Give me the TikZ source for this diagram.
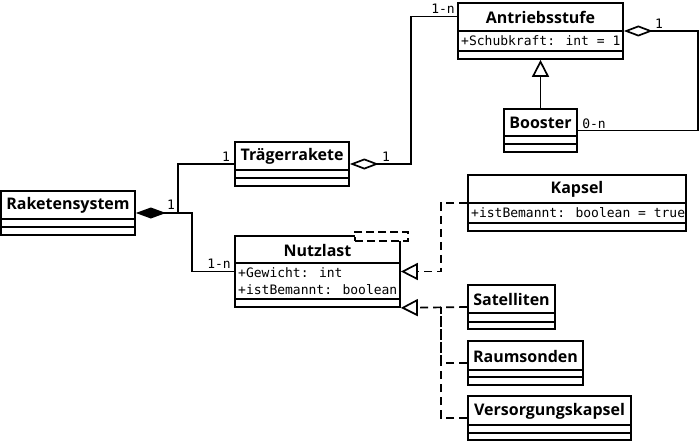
\documentclass[tikz,border=0pt]{standalone}
\usepackage{fontspec}
\newfontfamily\tfont{Open Sans}
\newfontfamily\mfont{DejaVu Sans Mono}
\usetikzlibrary{arrows.meta,calc}
\begin{document}
\begin{tikzpicture}[x=1pt,y=-1pt,
  cls/.style={draw, line width=1.7pt, inner sep=0pt, fill=white},
  ttl/.style={font=\tfont\bfseries\fontsize{16}{16}\selectfont, inner sep=0pt},
  att/.style={font=\mfont\fontsize{13}{13}\selectfont, inner sep=0pt, anchor=west},
  mult/.style={font=\mfont\fontsize{13}{13}\selectfont, inner sep=0pt},
  sepl/.style={line width=1.7pt},
  conn/.style={line width=1.7pt},
  comp/.style={conn, -{Diamond[length=30pt,width=11pt]}},
  aggr/.style={conn, -{Diamond[open,length=29pt,width=11pt]}},
  gen/.style={conn, -{Triangle[open,length=17pt,width=17pt]}},
  real/.style={conn, dash pattern=on 8pt off 5pt, -{Triangle[open,length=17pt,width=17pt]}},
  realn/.style={conn, dash pattern=on 8pt off 5pt}]
\useasboundingbox (0,0) rectangle (700,441);

% Raketensystem
\node[cls, minimum width=134pt, minimum height=44pt] (rs) at (68,213) {};
\node[ttl] (rsT) at (68,205.5) {Raketensystem};
\draw[sepl] (rs.west |- 0,219) -- (rs.east |- 0,219);
\draw[sepl] (rs.west |- 0,227) -- (rs.east |- 0,227);

% Traegerrakete
\node[cls, minimum width=114pt, minimum height=44pt] (tr) at (292,164) {};
\node[ttl] (trT) at (292,156.5) {Trägerrakete};
\draw[sepl] (tr.west |- 0,170) -- (tr.east |- 0,170);
\draw[sepl] (tr.west |- 0,178) -- (tr.east |- 0,178);

% Nutzlast
\node[cls, minimum width=165pt, minimum height=71pt] (nl) at (317.5,271.5) {};
\node[ttl] (nlT) at (317.5,250.5) {Nutzlast};
\draw[sepl] (nl.west |- 0,263) -- (nl.east |- 0,263);
\draw[sepl] (nl.west |- 0,299) -- (nl.east |- 0,299);
\node[att] (nlA1) at (238,273) {+Gewicht: int};
\node[att] (nlA2) at (238,290) {+istBemannt: boolean};
\node[draw, fill=white, line width=1.7pt, dash pattern=on 8pt off 4pt, inner sep=0pt, minimum width=53pt, minimum height=9pt] (nlP) at (381.5,236.5) {};

% Antriebsstufe
\node[cls, minimum width=165pt, minimum height=56pt] (an) at (540.5,31) {};
\node[ttl] (anT) at (540.5,17.5) {Antriebsstufe};
\draw[sepl] (an.west |- 0,31) -- (an.east |- 0,31);
\draw[sepl] (an.west |- 0,51) -- (an.east |- 0,51);
\node[att] (anA) at (461,41) {+Schubkraft: int = 1};

% Booster
\node[cls, minimum width=73pt, minimum height=43pt] (bo) at (540.5,130.5) {};
\node[ttl] (boT) at (540.5,123) {Booster};
\draw[sepl] (bo.west |- 0,136) -- (bo.east |- 0,136);
\draw[sepl] (bo.west |- 0,144) -- (bo.east |- 0,144);

% Kapsel
\node[cls, minimum width=218pt, minimum height=56pt] (ka) at (577,203) {};
\node[ttl] (kaT) at (577,189.5) {Kapsel};
\draw[sepl] (ka.west |- 0,203) -- (ka.east |- 0,203);
\draw[sepl] (ka.west |- 0,223) -- (ka.east |- 0,223);
\node[att] (kaA) at (471,213) {+istBemannt: boolean = true};

% Satelliten
\node[cls, minimum width=87pt, minimum height=44pt] (sa) at (511.5,307) {};
\node[ttl] (saT) at (511.5,299.5) {Satelliten};
\draw[sepl] (sa.west |- 0,313) -- (sa.east |- 0,313);
\draw[sepl] (sa.west |- 0,322) -- (sa.east |- 0,322);

% Raumsonden
\node[cls, minimum width=115pt, minimum height=44pt] (ra) at (525.5,363) {};
\node[ttl] (raT) at (525.5,356) {Raumsonden};
\draw[sepl] (ra.west |- 0,370) -- (ra.east |- 0,370);
\draw[sepl] (ra.west |- 0,377) -- (ra.east |- 0,377);

% Versorgungskapsel
\node[cls, minimum width=163pt, minimum height=44pt] (vk) at (549.5,418) {};
\node[ttl] (vkT) at (549.5,411) {Versorgungskapsel};
\draw[sepl] (vk.west |- 0,425) -- (vk.east |- 0,425);
\draw[sepl] (vk.west |- 0,433) -- (vk.east |- 0,433);

% junction coordinates
\coordinate (jr) at (178,213);
\coordinate (jn) at (192,213);
\coordinate (k1) at (411,164);
\coordinate (anw) at ($(an.north west)!0.25!(an.south west)$);
\coordinate (k2) at (698,31);
\coordinate (k3) at (441,271.5);
\coordinate (k4) at (441,307);

% composition
\draw[comp] (tr.west) -| (jr) -- (rs.east);
\draw[conn] (nl.west) -| (jn) -- (jr);
% aggregations
\draw[aggr] (anw) -| (k1) -- (tr.east);
\draw[aggr] (bo.east) -| (k2) -- (an.east);
% generalization
\draw[gen] (bo.north) -- (an.south);
% realizations
\draw[real] (ka.west) -| (k3) -- (nl.east);
\draw[real] (sa.west) -- (nl.south east);
\draw[realn] (ra.west) -| (k4);
\draw[realn] (vk.west) -| (k4);

% multiplicities
\node[mult] (m1) at (171,205) {1};
\node[mult] (m2) at (226,157) {1};
\node[mult] (m3) at (219,264) {1-n};
\node[mult] (m4) at (386,157) {1};
\node[mult] (m5) at (443,9) {1-n};
\node[mult] (m6) at (659,24) {1};
\node[mult] (m7) at (594,124) {0-n};
\end{tikzpicture}
\end{document}
